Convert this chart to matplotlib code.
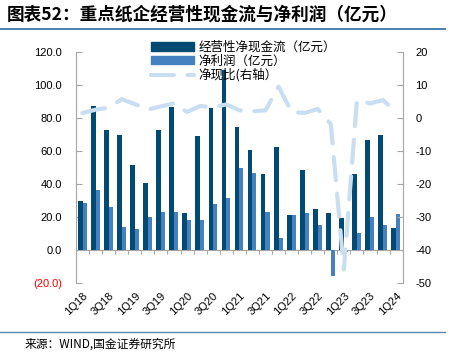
import matplotlib
matplotlib.use("Agg")
import matplotlib.pyplot as plt
from matplotlib.lines import Line2D
from matplotlib.patches import Patch

plt.rcParams['font.family'] = ['Liberation Sans', 'Noto Sans CJK SC', 'DejaVu Sans']
plt.rcParams['axes.unicode_minus'] = False

quarters = ['1Q18', '2Q18', '3Q18', '4Q18', '1Q19', '2Q19', '3Q19', '4Q19',
            '1Q20', '2Q20', '3Q20', '4Q20', '1Q21', '2Q21', '3Q21', '4Q21',
            '1Q22', '2Q22', '3Q22', '4Q22', '1Q23', '2Q23', '3Q23', '4Q23', '1Q24']
cash_flow = [29.7, 87.3, 72.7, 69.7, 51.2, 40.8, 72.7, 86.9, 22.4, 68.8, 85.9, 108.8,
             74.7, 60.7, 45.9, 62.1, 21.1, 48.3, 24.6, 22.4, 19.5, 45.9, 66.6, 69.7, 13.4]
net_profit = [28.2, 36.4, 26.2, 13.6, 12.8, 20.1, 23.2, 23.2, 18.1, 18.1, 27.6, 31.3,
              49.8, 46.7, 23.1, 6.9, 21.1, 22.3, 15.1, -16.2, -1.2, 10.0, 20.1, 15.2, 21.5]
cash_ratio = [1.5, 2.5, 3.1, 5.7, 4.2, 2.5, 3.5, 4.4, 1.8, 3.6, 3.2, 4.1,
              2.3, 2.0, 2.3, 9.5, 1.8, 1.5, 2.7, -1.9, -46.0, 5.4, 4.4, 5.4, 1.8]
left_ticks = [-20, 0, 20, 40, 60, 80, 100, 120]
right_ticks = [-50, -40, -30, -20, -10, 0, 10, 20]

labels = ['经营性净现金流（亿元）', '净利润（亿元）', '净现比(右轴）']
title = '图表52：重点纸企经营性现金流与净利润（亿元）'
source = '来源：WIND,国金证券研究所'

C_DARK = '#004A73'
C_LIGHT = '#4581C1'
C_LINE = '#C9DEF1'
C_AX = '#A6A6A6'
CJK = ['Noto Sans CJK SC', 'DejaVu Sans']

W, H = 452, 357
fig = plt.figure(figsize=(W / 100, H / 100), dpi=100)
ax = fig.add_axes([76 / W, 1 - 282.7 / H, (402.7 - 76) / W, (282.7 - 52) / H])

x = list(range(len(quarters)))
ax.bar(x, cash_flow, width=-0.36, align='edge', color=C_DARK, zorder=2)
ax.bar(x, net_profit, width=0.31, align='edge', color=C_LIGHT, zorder=2)
ax.set_xlim(-0.5, len(quarters) - 0.5)
ax.set_ylim(-20, 120)
ax.set_yticks(left_ticks)
ax.set_yticklabels([f'({abs(v):.1f})' if v < 0 else f'{v:.1f}' for v in left_ticks])
for t, v in zip(ax.get_yticklabels(), left_ticks):
    if v < 0:
        t.set_color('#FF0000')
ax.tick_params(axis='y', direction='in', length=4, color=C_AX, labelsize=8, pad=10)
ax.set_xticks(x[::2])
ax.set_xticklabels(quarters[::2], rotation=45, ha='right', va='top',
                   rotation_mode='anchor', fontsize=8)
ax.tick_params(axis='x', length=0, pad=6)
for s in ['top', 'bottom', 'right']:
    ax.spines[s].set_visible(False)
ax.spines['left'].set_color(C_AX)

# zero line with category boundary ticks
sec = ax.secondary_xaxis(20 / 140)
sec.set_xticks([i - 0.5 for i in range(len(quarters) + 1)])
sec.tick_params(axis='x', direction='out', length=3, color=C_AX, labelbottom=False)
sec.spines['bottom'].set_color(C_AX)

ax2 = ax.twinx()
ax2.set_ylim(-50, 20)
ax2.set_yticks(right_ticks)
ax2.set_yticklabels([str(v) for v in right_ticks])
ax2.tick_params(axis='y', direction='in', length=4, color=C_AX, labelsize=8, pad=9)
for s in ['top', 'bottom', 'left']:
    ax2.spines[s].set_visible(False)
ax2.spines['right'].set_color(C_AX)
line, = ax2.plot(x, cash_ratio, color=C_LINE, lw=3, linestyle=(0, (5.5, 3.3)),
                 dash_capstyle='round', solid_capstyle='round', zorder=3)

handles = [Patch(color=C_DARK), Patch(color=C_LIGHT),
           Line2D([0], [0], color=C_LINE, lw=3, linestyle=(0, (5.5, 3.3)),
                  dash_capstyle='round')]
fig.legend(handles, labels, loc='upper left', bbox_to_anchor=(151 / W, 1 - 41 / H),
           frameon=False, prop={'family': CJK, 'size': 9}, handlelength=3.4,
           handleheight=0.65, handletextpad=0.4, labelspacing=0.05,
           borderpad=0, borderaxespad=0)

fig.text(7 / W, 1 - 15 / H, title, fontsize=12.7, fontweight='bold', style='italic',
         va='center', ha='left', family=CJK)
fig.add_artist(Line2D([0, 445 / W], [1 - 29.3 / H] * 2, color='#3F74A8', lw=1.3))
fig.add_artist(Line2D([0, 445 / W], [1 - 331.7 / H] * 2, color='#5B87B5', lw=1.0))
fig.text(25 / W, 1 - 344 / H, source, fontsize=8.5, va='center', ha='left', family=CJK)

fig.savefig('out.png', dpi=100)
